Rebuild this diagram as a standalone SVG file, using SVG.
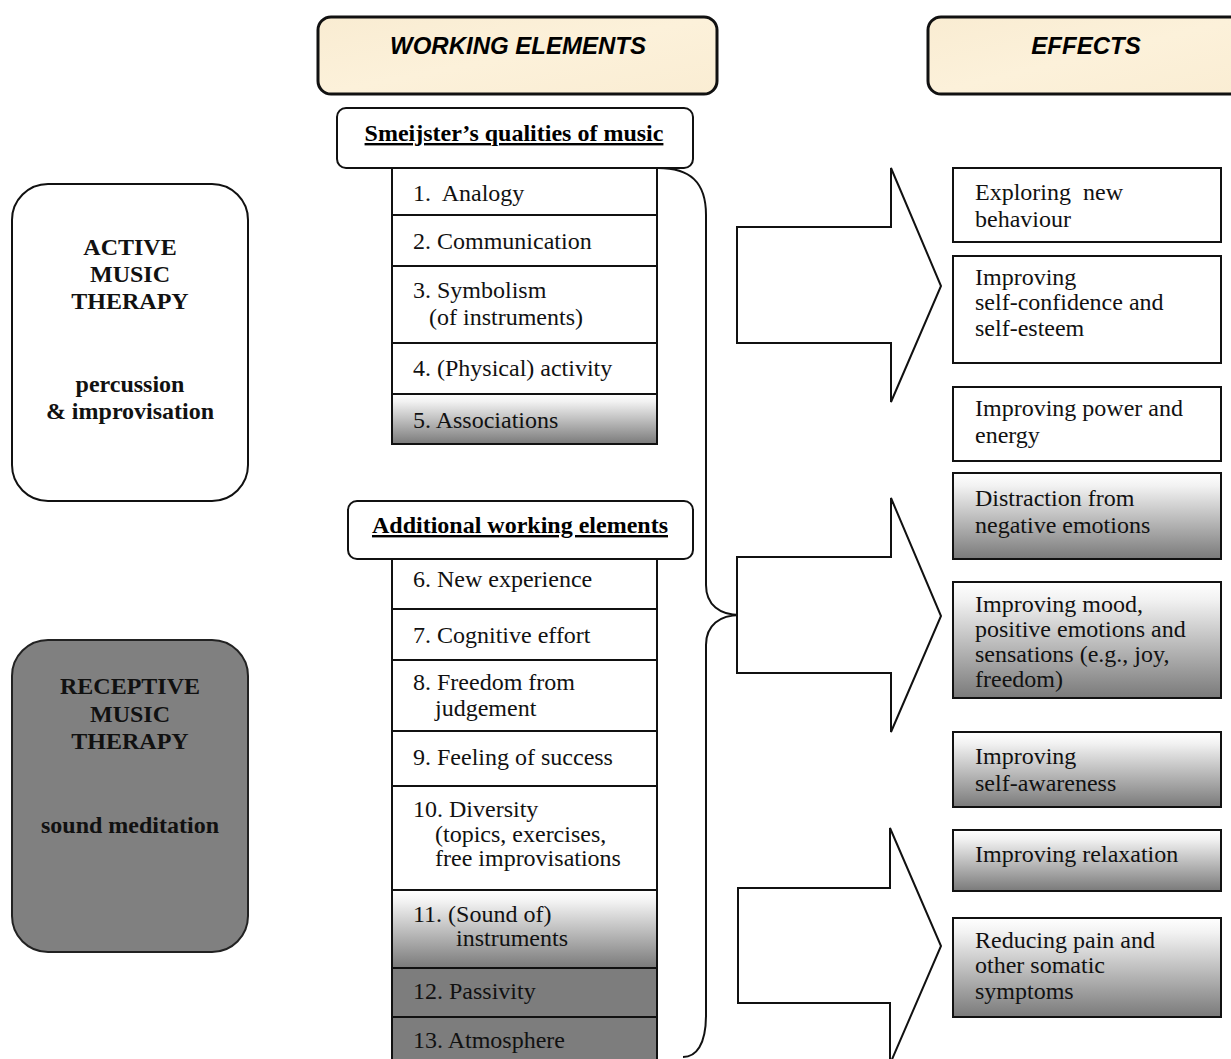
<svg xmlns="http://www.w3.org/2000/svg" width="1231" height="1059" viewBox="0 0 1231 1059">
<style>
.hdr{fill:url(#beige);stroke:#111;stroke-width:3}
.ht{font-family:"Liberation Sans",Arial,sans-serif;font-weight:bold;font-style:italic;font-size:24px;fill:#000;text-anchor:middle}
.cap{fill:#fff;stroke:#111;stroke-width:2}
.ct{font-family:"Liberation Serif","Times New Roman",serif;font-weight:bold;font-size:24px;text-decoration:underline;text-anchor:middle}
.row{fill:#fff;stroke:#111;stroke-width:2}
.rowg{fill:url(#gv);stroke:#111;stroke-width:2}
.rowd{fill:#7d7d7d;stroke:#111;stroke-width:2}
.t{font-family:"Liberation Serif","Times New Roman",serif;font-size:24px;fill:#111;white-space:pre}
.eff{fill:#fff;stroke:#111;stroke-width:2}
.effg{fill:url(#gv);stroke:#111;stroke-width:2}
.side{font-family:"Liberation Serif","Times New Roman",serif;font-weight:bold;font-size:24px;text-anchor:middle;fill:#111}
.arrow{fill:#fff;stroke:#111;stroke-width:2;stroke-linejoin:miter}
.brace{fill:none;stroke:#111;stroke-width:2}
</style>
<defs>
<linearGradient id="gv" x1="0" y1="0" x2="0" y2="1">
<stop offset="0" stop-color="#ffffff"/>
<stop offset="0.15" stop-color="#f2f2f2"/>
<stop offset="1" stop-color="#7a7a7a"/>
</linearGradient>
<linearGradient id="beige" x1="0" y1="0" x2="1" y2="1">
<stop offset="0" stop-color="#f9ecd2"/>
<stop offset="0.5" stop-color="#fcf1da"/>
<stop offset="1" stop-color="#faedd3"/>
</linearGradient>
</defs>
<rect width="1231" height="1059" fill="#fff"/>

<g id="hdr-working">
<rect class="hdr" x="318" y="17" width="399" height="77" rx="13"/>
<text class="ht" x="518" y="54">WORKING ELEMENTS</text>
</g>
<g id="hdr-effects">
<rect class="hdr" x="928" y="17" width="320" height="77" rx="13"/>
<text class="ht" x="1086" y="54">EFFECTS</text>
</g>

<g id="active">
<rect x="12" y="184" width="236" height="317" rx="36" fill="#fff" stroke="#111" stroke-width="2"/>
<text class="side" x="130" y="255">ACTIVE</text>
<text class="side" x="130" y="282">MUSIC</text>
<text class="side" x="130" y="309">THERAPY</text>
<text class="side" x="130" y="392">percussion</text>
<text class="side" x="130" y="419">&amp; improvisation</text>
</g>
<g id="receptive">
<rect x="12" y="640" width="236" height="312" rx="36" fill="#808080" stroke="#222" stroke-width="2"/>
<text class="side" x="130" y="694">RECEPTIVE</text>
<text class="side" x="130" y="722">MUSIC</text>
<text class="side" x="130" y="749">THERAPY</text>
<text class="side" x="130" y="833">sound meditation</text>
</g>

<g id="smeijster">
<rect class="cap" x="337" y="108" width="356" height="60" rx="9"/>
<text class="ct" x="514" y="141">Smeijster’s qualities of music</text>
</g>
<g id="list1">
<rect class="row" x="392" y="168" width="265" height="47"/>
<text class="t" x="413" y="201">1.  Analogy</text>
<rect class="row" x="392" y="215" width="265" height="51"/>
<text class="t" x="413" y="249">2. Communication</text>
<rect class="row" x="392" y="266" width="265" height="77"/>
<text class="t" x="413" y="298">3. Symbolism</text>
<text class="t" x="429" y="325">(of instruments)</text>
<rect class="row" x="392" y="343" width="265" height="51"/>
<text class="t" x="413" y="376">4. (Physical) activity</text>
<rect class="rowg" x="392" y="394" width="265" height="50"/>
<text class="t" x="413" y="428">5. Associations</text>
</g>

<g id="additional">
<rect class="cap" x="348" y="501" width="345" height="58" rx="9"/>
<text class="ct" x="520" y="533">Additional working elements</text>
</g>
<g id="list2">
<rect class="row" x="392" y="559" width="265" height="50"/>
<text class="t" x="413" y="587">6. New experience</text>
<rect class="row" x="392" y="609" width="265" height="51"/>
<text class="t" x="413" y="643">7. Cognitive effort</text>
<rect class="row" x="392" y="660" width="265" height="71"/>
<text class="t" x="413" y="690">8. Freedom from</text>
<text class="t" x="435" y="716">judgement</text>
<rect class="row" x="392" y="731" width="265" height="55"/>
<text class="t" x="413" y="765">9. Feeling of success</text>
<rect class="row" x="392" y="786" width="265" height="104"/>
<text class="t" x="413" y="817">10. Diversity</text>
<text class="t" x="435" y="842">(topics, exercises,</text>
<text class="t" x="435" y="866">free improvisations</text>
<rect class="rowg" x="392" y="890" width="265" height="78"/>
<text class="t" x="413" y="922">11. (Sound of)</text>
<text class="t" x="456" y="946">instruments</text>
<rect class="rowd" x="392" y="968" width="265" height="49"/>
<text class="t" x="413" y="999">12. Passivity</text>
<rect class="rowd" x="392" y="1017" width="265" height="50"/>
<text class="t" x="413" y="1048">13. Atmosphere</text>
</g>

<g id="connectors">
<path class="brace" d="M 658 168 C 690 168 706 182 706 215 L 706 585 C 706 605 720 615 740 615 C 720 615 706 625 706 645 L 706 1015 C 706 1045 696 1057 683 1057"/>
<polygon class="arrow" points="737,227 891,227 891,168 941,286 891,402 891,343 737,343"/>
<polygon class="arrow" points="737,557 891,557 891,498 941,616 891,732 891,673 737,673"/>
<polygon class="arrow" points="738,888 890,888 890,828 941,946 890,1064 890,1003 738,1003"/>
</g>

<g id="eff1">
<rect class="eff" x="953" y="168" width="268" height="74"/>
<text class="t" x="975" y="200">Exploring  new</text>
<text class="t" x="975" y="227">behaviour</text>
</g>
<g id="eff2">
<rect class="eff" x="953" y="256" width="268" height="107"/>
<text class="t" x="975" y="285">Improving</text>
<text class="t" x="975" y="310">self-confidence and</text>
<text class="t" x="975" y="336">self-esteem</text>
</g>
<g id="eff3">
<rect class="eff" x="953" y="387" width="268" height="74"/>
<text class="t" x="975" y="416">Improving power and</text>
<text class="t" x="975" y="443">energy</text>
</g>
<g id="eff4">
<rect class="effg" x="953" y="473" width="268" height="86"/>
<text class="t" x="975" y="506">Distraction from</text>
<text class="t" x="975" y="533">negative emotions</text>
</g>
<g id="eff5">
<rect class="effg" x="953" y="582" width="268" height="116"/>
<text class="t" x="975" y="612">Improving mood,</text>
<text class="t" x="975" y="637">positive emotions and</text>
<text class="t" x="975" y="662">sensations (e.g., joy,</text>
<text class="t" x="975" y="687">freedom)</text>
</g>
<g id="eff6">
<rect class="effg" x="953" y="732" width="268" height="75"/>
<text class="t" x="975" y="764">Improving</text>
<text class="t" x="975" y="791">self-awareness</text>
</g>
<g id="eff7">
<rect class="effg" x="953" y="830" width="268" height="61"/>
<text class="t" x="975" y="862">Improving relaxation</text>
</g>
<g id="eff8">
<rect class="effg" x="953" y="918" width="268" height="99"/>
<text class="t" x="975" y="948">Reducing pain and</text>
<text class="t" x="975" y="973">other somatic</text>
<text class="t" x="975" y="999">symptoms</text>
</g>
</svg>
